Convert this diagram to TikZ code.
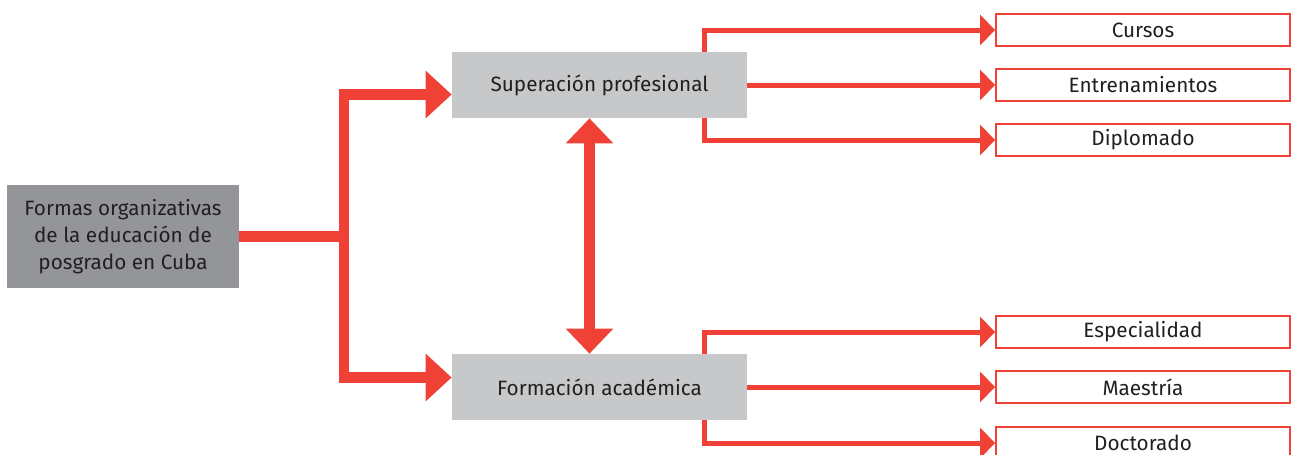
\documentclass[tikz,border=0pt]{standalone}
\usepackage{fontspec}
\setmainfont{Fira Sans}
\usetikzlibrary{arrows.meta,calc}
\definecolor{rojo}{HTML}{EF4136}
\definecolor{grisosc}{HTML}{939598}
\definecolor{grisclaro}{HTML}{C7C8CA}
\definecolor{texto}{HTML}{231F20}

\begin{document}
\begin{tikzpicture}[x=0.02cm, y=-0.02cm,
  every node/.style={font=\fontsize{11.8}{15.4}\selectfont, text=texto},
  raiz/.style={fill=grisosc, minimum width=4.64cm, minimum height=2.06cm, align=center, inner sep=0pt},
  rama/.style={fill=grisclaro, minimum width=5.9cm, minimum height=1.32cm, inner sep=0pt},
  hoja/.style={draw=rojo, line width=0.04cm, fill=white, minimum width=5.88cm, minimum height=0.64cm, inner sep=0pt},
  grueso/.style={draw=rojo, line width=0.21cm, -{Triangle[length=0.52cm, width=0.92cm]}},
  fino/.style={draw=rojo, line width=0.1cm, -{Triangle[length=0.3cm, width=0.6cm]}}]
\useasboundingbox (0,0) rectangle (1293,454);

% nodos
\node[raiz] (raiz) at (123,236.5) {Formas organizativas\\de la educación de\\posgrado en Cuba};
\node[rama] (sup) at (599.5,85) {Superación profesional};
\node[rama] (acad) at (599.5,387) {Formación académica};

\node[hoja] (cursos) at (1143,30) {Cursos};
\node[hoja] (entren) at (1143,85) {Entrenamientos};
\node[hoja] (diplo) at (1143,140) {Diplomado};
\node[hoja] (espec) at (1143,332) {Especialidad};
\node[hoja] (maest) at (1143,387) {Maestría};
\node[hoja] (doct) at (1143,443) {Doctorado};

% bifurcación
\coordinate (bif) at (344,236.5);
\draw[grueso] (raiz.east) -- (bif) |- ($(sup.west)+(0,9.5)$);
\draw[grueso] (raiz.east) -- (bif) |- ($(acad.west)+(0,-9.5)$);
\draw[grueso, {Triangle[length=0.5cm, width=0.92cm]}-{Triangle[length=0.5cm, width=0.92cm]}]
  ($(sup.south)+(-10,0)$) -- ($(acad.north)+(-10,0)$);

% ramas
\draw[fino] ($(sup.north)+(104.5,0)$) |- (cursos.west);
\draw[fino] (sup.east) -- (entren.west);
\draw[fino] ($(sup.south)+(104.5,0)$) |- (diplo.west);
\draw[fino] ($(acad.north)+(104.5,0)$) |- (espec.west);
\draw[fino] (acad.east) -- (maest.west);
\draw[fino] ($(acad.south)+(104.5,0)$) |- (doct.west);
\end{tikzpicture}
\end{document}
